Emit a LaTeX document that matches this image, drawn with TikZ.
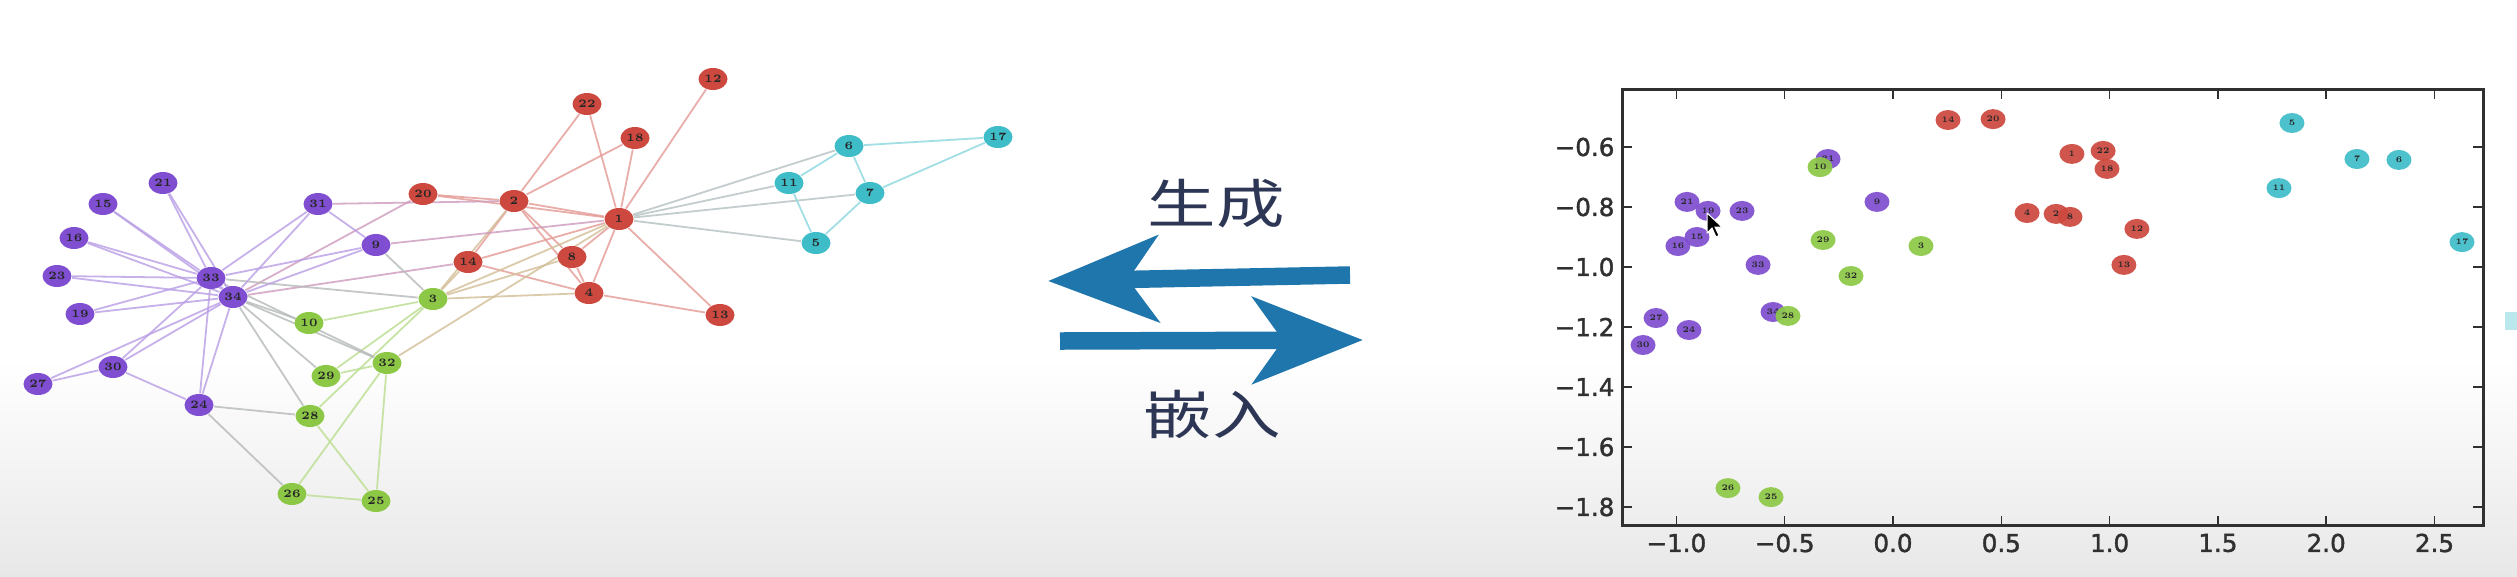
\documentclass[tikz,border=0pt]{standalone}
\usepackage{fontspec}
\usepackage{tikz}
\usetikzlibrary{shapes.geometric, arrows.meta, backgrounds}
\newfontfamily\cjk[FakeStretch=1.3]{Noto Sans CJK SC}
\newfontfamily\tickfont[FakeBold=1.6]{DejaVu Sans}
\definecolor{kpurple}{RGB}{128, 78, 208}
\definecolor{kred}{RGB}{205, 72, 62}
\definecolor{kgreen}{RGB}{140, 200, 70}
\definecolor{kcyan}{RGB}{62, 188, 200}
\definecolor{arrowblue}{RGB}{30, 118, 172}
\definecolor{zhnavy}{RGB}{45, 55, 85}
\definecolor{axisgray}{RGB}{48, 48, 48}
\pgfdeclarelayer{edges}
\pgfsetlayers{background,edges,main}

\begin{document}
\begin{tikzpicture}[
    x=0.1mm, y=-0.1mm,
    vtx/.style={
      ellipse, minimum width=2.9mm, minimum height=2.2mm, inner sep=0pt,
      font=\fontsize{3.2pt}{3.2pt}\selectfont\bfseries, text=black!85
    },
    dot/.style={
      ellipse, minimum width=2.5mm, minimum height=2mm, inner sep=0pt,
      fill opacity=0.92, text opacity=1,
      font=\fontsize{2.4pt}{2.4pt}\selectfont\bfseries, text=black!85
    },
    link/.style={line width=0.18mm, draw opacity=0.8},
    bigarr/.style={line width=1.75mm, draw=arrowblue,
      -{Stealth[length=11mm, width=8.6mm, inset=3mm]}},
    zh/.style={font=\cjk\fontsize{15pt}{15pt}\selectfont, text=zhnavy},
    frame/.style={line width=0.3mm, draw=axisgray},
    tick/.style={line width=0.15mm, draw=axisgray},
    ticklabel/.style={font=\tickfont\fontsize{7pt}{7pt}\selectfont, text=axisgray, inner sep=0pt}
]
  \useasboundingbox (0,0) rectangle (2517,576);

  \begin{pgfonlayer}{background}
    \fill[white] (0,0) rectangle (2517,360);
    \fill[top color=white, bottom color=gray!18] (0,360) rectangle (2517,576);
  \end{pgfonlayer}

  % karate club graph
  \foreach \n/\x/\y/\c in {
      1/619/219/kred, 2/514/201/kred, 3/433/299/kgreen, 4/589/293/kred,
      5/816/243/kcyan, 6/849/146/kcyan, 7/870/193/kcyan, 8/572/257/kred,
      9/376/245/kpurple, 10/309/323/kgreen, 11/789/183/kcyan, 12/713/79/kred,
      13/720/315/kred, 14/468/262/kred, 15/103/204/kpurple, 16/74/238/kpurple,
      17/998/137/kcyan, 18/635/138/kred, 19/80/314/kpurple, 20/423/194/kred,
      21/163/183/kpurple, 22/587/104/kred, 23/57/276/kpurple, 24/199/405/kpurple,
      25/376/501/kgreen, 26/292/494/kgreen, 27/38/384/kpurple, 28/310/416/kgreen,
      29/326/376/kgreen, 30/113/367/kpurple, 31/318/204/kpurple, 32/387/363/kgreen,
      33/211/278/kpurple, 34/233/297/kpurple}
    \node[vtx, fill=\c] (g\n) at (\x,\y) {\n};

  \begin{pgfonlayer}{edges}
    \foreach \a/\b in {1/2,1/4,1/8,1/12,1/13,1/14,1/18,1/20,1/22,2/4,2/8,2/14,
        2/18,2/20,2/22,4/8,4/13,4/14}
      \draw[link, draw=kred!55] (g\a) -- (g\b);
    \foreach \a/\b in {1/5,1/6,1/7,1/11}
      \draw[link, draw=kred!40!kcyan!55] (g\a) -- (g\b);
    \foreach \a/\b in {1/3,1/32,2/3,3/4,3/8,3/14}
      \draw[link, draw=kred!50!kgreen!55] (g\a) -- (g\b);
    \foreach \a/\b in {1/9,2/31,14/34,20/34}
      \draw[link, draw=kred!50!kpurple!55] (g\a) -- (g\b);
    \foreach \a/\b in {5/7,5/11,6/7,6/11,6/17,7/17}
      \draw[link, draw=kcyan!60] (g\a) -- (g\b);
    \foreach \a/\b in {3/10,3/28,3/29,25/26,25/28,25/32,26/32,29/32}
      \draw[link, draw=kgreen!60] (g\a) -- (g\b);
    \foreach \a/\b in {3/9,3/33,10/34,24/26,24/28,28/34,29/34,32/33,32/34}
      \draw[link, draw=kgreen!50!kpurple!60] (g\a) -- (g\b);
    \foreach \a/\b in {9/31,9/33,9/34,15/33,15/34,16/33,16/34,19/33,19/34,
        21/33,21/34,23/33,23/34,24/30,24/33,24/34,27/30,27/34,30/33,30/34,
        31/33,31/34,33/34}
      \draw[link, draw=kpurple!55] (g\a) -- (g\b);
  \end{pgfonlayer}

  % arrows
  \coordinate (genS) at (1350,275);
  \coordinate (genE) at (1048,281);
  \coordinate (embS) at (1060,341);
  \coordinate (embE) at (1363,340);
  \draw[bigarr] (genS) -- (genE);
  \draw[bigarr] (embS) -- (embE);
  \node[zh] (gen) at (1216,204) {生成};
  \node[zh] (emb) at (1212,414) {嵌入};

  % embedding scatter plot
  \begin{scope}[shift={(1893,-33)}, x=2.166cm, y=3cm]
    \foreach \v/\t [count=\i] in {-1.0/−1.0, -0.5/−0.5, 0/0.0, 0.5/0.5,
        1.0/1.0, 1.5/1.5, 2.0/2.0, 2.5/2.5} {
      \draw[tick] (\v,-1.863) -- ++(0pt,1mm);
      \draw[tick] (\v,-0.4067) -- ++(0pt,-1mm);
      \node[ticklabel] (xl\i) at (\v,-1.92) {\t};
    }
    \foreach \v/\t [count=\i] in {-0.6/−0.6, -0.8/−0.8, -1.0/−1.0, -1.2/−1.2,
        -1.4/−1.4, -1.6/−1.6, -1.8/−1.8} {
      \draw[tick] (-1.251,\v) -- ++(1mm,0pt);
      \draw[tick] (2.724,\v) -- ++(-1mm,0pt);
      \node[ticklabel, anchor=east] (yl\i) at (-1.283,\v) {\t};
    }
    \draw[frame] (-1.251,-1.863) rectangle (2.724,-0.4067);

    \foreach \n/\x/\y/\c in {
        14/0.254/-0.51/kred, 20/0.462/-0.507/kred, 1/0.826/-0.623/kred,
        22/0.970/-0.613/kred, 18/0.988/-0.673/kred, 4/0.619/-0.82/kred,
        2/0.753/-0.823/kred, 8/0.817/-0.833/kred, 12/1.126/-0.873/kred,
        13/1.066/-0.993/kred, 5/1.842/-0.52/kcyan, 7/2.142/-0.64/kcyan,
        6/2.336/-0.643/kcyan, 11/1.782/-0.737/kcyan, 17/2.627/-0.917/kcyan,
        31/-0.300/-0.64/kpurple, 9/-0.074/-0.783/kpurple, 21/-0.951/-0.783/kpurple,
        19/-0.854/-0.813/kpurple, 23/-0.697/-0.813/kpurple, 15/-0.905/-0.9/kpurple,
        16/-0.993/-0.93/kpurple, 33/-0.623/-0.993/kpurple, 34/-0.554/-1.15/kpurple,
        27/-1.094/-1.17/kpurple, 24/-0.942/-1.21/kpurple, 30/-1.154/-1.26/kpurple,
        10/-0.337/-0.667/kgreen, 29/-0.323/-0.91/kgreen, 3/0.129/-0.93/kgreen,
        32/-0.194/-1.03/kgreen, 28/-0.485/-1.163/kgreen, 26/-0.762/-1.737/kgreen,
        25/-0.563/-1.767/kgreen}
      \node[dot, fill=\c] (e\n) at (\x,\y) {\n};
  \end{scope}

  % mouse pointer and cut-off mark at the edge
  \fill[black, draw=white, line width=0.1mm] (1707,213) -- ++(0,20) -- ++(5,-5)
    -- ++(4,9) -- ++(3,-1.5) -- ++(-4,-8.5) -- ++(7,0) -- cycle;
  \fill[kcyan!35] (2505,312) rectangle (2517,330);
\end{tikzpicture}
\end{document}
